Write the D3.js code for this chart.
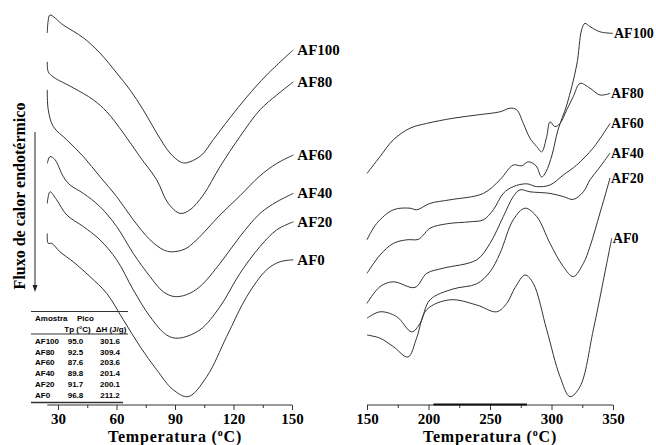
<!DOCTYPE html>
<html lang="pt">
<head>
<meta charset="UTF-8">
<title>DSC AF</title>
<script src="https://d3js.org/d3.v7.min.js"></script>
<style>
  body { margin: 0; background: #fff; }
  svg text { font-family: "Liberation Serif", "Times New Roman", serif; font-weight: bold; fill: #000; }
  .tbl text { font-family: "Liberation Sans", Arial, sans-serif; font-size: 8px; }
</style>
</head>
<body>
<script>
// samples, top to bottom
const samples = ["AF100", "AF80", "AF60", "AF40", "AF20", "AF0"];

// low range run (25-150 C): [temperature, heat flow a.u. incl. offset]
const lowAF100 = [[24.5,93.0],[25.0,96.2],[25.9,97.5],[32.7,95.0],[43.0,91.8],[51.5,88.0],[60.1,83.0],[66.9,78.8],[73.7,73.8],[80.6,68.0],[87.4,63.0],[92.6,60.8],[95.0,60.5],[97.7,60.8],[103.7,62.5],[109.6,66.3],[118.2,71.8],[126.8,77.0],[137.0,82.5],[150.7,88.8]];
const lowAF80 = [[24.5,85.8],[25.0,83.3],[27.6,82.0],[37.8,79.3],[48.1,76.3],[55.0,73.3],[63.5,68.0],[72.1,62.0],[80.6,56.3],[86.4,50.5],[92.6,47.9],[97.7,48.8],[104.5,52.5],[113.1,59.6],[123.3,67.1],[133.6,73.8],[142.2,77.5],[150.7,80.8]];
const lowAF60 = [[24.5,78.8],[25.0,73.8],[27.6,69.6],[34.5,66.3],[43.0,62.1],[51.5,57.1],[60.1,52.1],[68.6,46.3],[77.2,41.3],[84.0,38.8],[88.3,38.3],[95.1,39.0],[101.1,41.3],[113.1,47.5],[123.3,52.3],[133.6,57.3],[142.2,60.4],[150.7,62.5]];
const lowAF40 = [[24.5,60.4],[25.9,62.1],[28.5,61.3],[32.7,57.1],[36.2,55.0],[43.0,52.9],[51.5,49.6],[60.1,44.6],[68.6,37.9],[77.2,32.1],[84.0,28.3],[89.8,27.1],[96.0,27.6],[102.8,29.6],[113.1,35.4],[123.3,42.1],[133.6,47.9],[142.2,50.8],[150.7,52.9]];
const lowAF20 = [[24.5,50.4],[25.9,53.3],[29.3,51.3],[34.5,47.5],[43.0,44.6],[51.5,41.3],[60.1,36.3],[68.6,28.8],[77.2,22.1],[85.7,17.5],[91.7,16.7],[102.8,18.8],[113.1,24.6],[123.3,32.9],[133.6,39.6],[142.2,43.8],[150.7,45.8]];
const lowAF0 = [[24.5,42.9],[25.0,40.4],[26.8,40.4],[31.0,38.3],[37.8,35.8],[46.4,32.1],[55.0,27.9],[63.5,21.3],[72.1,14.6],[80.6,8.8],[89.1,3.8],[96.8,2.1],[106.3,7.1],[116.5,17.1],[126.8,27.1],[137.0,33.8],[143.8,35.8],[150.7,36.3]];

// high range run (150-350 C)
const highAF100 = [[150,41.3],[157.9,45.4],[171.4,48.8],[185.0,49.2],[190.4,48.8],[201.2,50.4],[217.5,51.3],[244.6,52.9],[258.1,56.3],[268.9,60.0],[275.8,59.8],[281.1,60.8],[287.4,59.8],[292.0,57.0],[295.5,58.3],[300.4,62.5],[305.3,68.8],[312.4,75.0],[320.5,85.0],[324.5,93.8],[327.2,95.4],[331.3,94.6],[339.4,93.3],[350.0,92.9]];
const highAF80 = [[150,57.9],[160.6,62.1],[171.4,66.3],[185.0,69.2],[198.5,70.4],[220.2,71.7],[239.2,72.5],[258.1,73.3],[266.3,74.2],[271.7,73.8],[277.1,70.4],[282.5,66.7],[288.0,64.6],[292.0,63.3],[296.1,67.1],[298.8,70.8],[302.8,69.6],[306.9,70.4],[312.4,73.8],[317.7,77.1],[323.2,80.4],[331.3,79.2],[339.4,77.5],[347.6,77.9]];
const highAF60 = [[150,32.9],[160.6,37.5],[171.4,40.4],[182.3,41.3],[191.7,41.4],[195.8,42.5],[201.2,44.2],[214.8,45.3],[233.7,45.8],[244.6,46.3],[252.7,48.8],[260.8,52.9],[268.9,54.6],[279.8,55.3],[288.0,54.6],[298.8,55.0],[309.6,57.5],[320.5,60.0],[334.0,64.3],[347.6,70.4]];
const highAF40 = [[150,25.4],[160.6,29.6],[171.4,30.8],[189.0,29.4],[198.5,32.9],[212.0,34.2],[239.2,36.3],[250.0,40.4],[260.8,47.1],[268.9,52.1],[274.4,53.8],[282.5,53.3],[298.8,52.9],[309.6,52.1],[317.7,51.4],[325.9,53.3],[331.3,56.3],[339.4,59.5],[347.6,63.0]];
const highAF20 = [[150,21.7],[160.6,23.3],[174.1,22.1],[186.3,18.3],[193.1,20.4],[201.2,26.3],[219.9,29.0],[239.2,30.3],[250.0,33.3],[258.1,37.9],[268.9,46.3],[278.5,49.2],[288.0,47.1],[298.8,40.4],[309.6,34.6],[317.7,32.1],[325.9,35.4],[331.3,39.6],[339.4,48.0],[344.9,53.8],[347.6,56.8]];
const highAF0 = [[150,17.5],[160.6,16.7],[171.4,14.6],[183.3,12.0],[190.4,16.8],[198.5,23.8],[217.5,26.3],[239.2,25.0],[255.4,23.3],[263.6,25.4],[270.3,29.3],[278.5,32.5],[285.2,30.4],[296.1,18.8],[306.9,7.1],[315.0,2.1],[323.2,4.6],[334.0,18.8],[344.9,35.4],[349.0,41.7]];

const lowCurves = [lowAF100, lowAF80, lowAF60, lowAF40, lowAF20, lowAF0];
const highCurves = [highAF100, highAF80, highAF60, highAF40, highAF20, highAF0];

// inset table
const tableTp = ["95.0", "92.5", "87.6", "89.8", "91.7", "96.8"];
const tableDH = ["301.6", "309.4", "203.6", "201.4", "200.1", "211.2"];

const lowTicks = [30, 60, 90, 120, 150];
const highTicks = [150, 200, 250, 300, 350];
const highAxisMark = [204, 280];   // heavier piece of the baseline

const svg = d3.select("body").append("svg")
    .attr("width", 656)
    .attr("height", 445);

const y = d3.scaleLinear().domain([0, 100]).range([405, 5]);
const xLow = d3.scaleLinear().domain([30, 150]).range([58, 292]);
const xHigh = d3.scaleLinear().domain([150, 350]).range([367, 613]);

function drawPanel(x, curves, ticks, labelDx, labelSize) {
    let line = d3.line()
        .x(d => x(d[0]))
        .y(d => y(d[1]))
        .curve(d3.curveCatmullRom.alpha(0.5));

    svg.append("g")
        .selectAll("path")
        .data(curves)
        .enter().append("path")
        .attr("d", line)
        .attr("fill", "none")
        .attr("stroke", "#333")
        .attr("stroke-width", 1);

    // sample names at the end of each trace
    svg.append("g")
        .selectAll("text")
        .data(curves)
        .enter().append("text")
        .attr("x", d => x(d[d.length - 1][0]) + labelDx)
        .attr("y", d => y(d[d.length - 1][1]) + 5)
        .attr("font-size", labelSize)
        .text((d, i) => samples[i]);

    // x axis: minor ticks halfway between the labelled ones
    let minors = d3.pairs(ticks).map(p => (p[0] + p[1]) / 2);
    let axis = svg.append("g").attr("transform", "translate(0,405)");
    axis.append("g")
        .call(d3.axisBottom(x).tickValues(minors).tickSize(3).tickFormat(""))
        .call(g => g.select(".domain").remove());
    axis.append("g")
        .call(d3.axisBottom(x).tickValues(ticks).tickSize(5).tickPadding(3).tickSizeOuter(0))
        .call(g => g.select(".domain").remove())
        .call(g => g.selectAll("text")
            .attr("font-size", "15px")
            .attr("font-family", "Liberation Serif, serif")
            .attr("font-weight", "bold")
            .attr("fill", "#000"));
    axis.selectAll("line").attr("stroke", "#333");

    let x0 = d3.min(curves, c => c[0][0]);
    axis.append("line")
        .attr("x1", x(Math.min(x0, ticks[0]))).attr("x2", x(ticks[ticks.length - 1]))
        .attr("stroke", "#333");

    // axis title
    let t = svg.append("text")
        .attr("x", (x(ticks[0]) + x(ticks[ticks.length - 1])) / 2)
        .attr("y", 442)
        .attr("text-anchor", "middle")
        .attr("font-size", "16px")
        .attr("letter-spacing", "0.8px");
    t.append("tspan").text("Temperatura (");
    t.append("tspan").attr("font-size", "10px").attr("dy", -6).text("o");
    t.append("tspan").attr("dy", 6).text("C)");
}

drawPanel(xLow, lowCurves, lowTicks, 4, "15px");
drawPanel(xHigh, highCurves, highTicks, 1, "14px");

svg.append("line")
    .attr("x1", xHigh(highAxisMark[0])).attr("x2", xHigh(highAxisMark[1]))
    .attr("y1", 404.5).attr("y2", 404.5)
    .attr("stroke", "#111")
    .attr("stroke-width", 2);

// y axis title and arrow
svg.append("text")
    .attr("transform", "translate(25,196) rotate(-90)")
    .attr("text-anchor", "middle")
    .attr("font-size", "16px")
    .text("Fluxo de calor endotérmico");

svg.append("line")
    .attr("x1", 35).attr("x2", 35)
    .attr("y1", 132).attr("y2", 286)
    .attr("stroke", "#222");
svg.append("path")
    .attr("d", "M32.5,285 L37.5,285 L35,292 Z")
    .attr("fill", "#222");

// inset table
let tbl = svg.append("g").attr("class", "tbl");
[[311.5, 128], [334, 128], [402.5, 123]].forEach(r => {
    tbl.append("line")
        .attr("x1", 31).attr("x2", r[1])
        .attr("y1", r[0]).attr("y2", r[0])
        .attr("stroke", "#333")
        .attr("stroke-width", r[0] > 400 ? 1.5 : 1);
});
tbl.append("text").attr("x", 35).attr("y", 320.5).text("Amostra");
tbl.append("text").attr("x", 77).attr("y", 320.5).text("Pico");
tbl.append("text").attr("x", 77.5).attr("y", 332).attr("text-anchor", "middle").text("Tp (°C)");
tbl.append("text").attr("x", 111).attr("y", 332).attr("text-anchor", "middle").text("ΔH (J/g)");

samples.forEach((s, i) => {
    let ty = 344 + i * 10.7;
    tbl.append("text").attr("x", 35).attr("y", ty).text(s);
    tbl.append("text").attr("x", 75.5).attr("y", ty).attr("text-anchor", "middle").text(tableTp[i]);
    tbl.append("text").attr("x", 110).attr("y", ty).attr("text-anchor", "middle").text(tableDH[i]);
});
</script>
</body>
</html>
